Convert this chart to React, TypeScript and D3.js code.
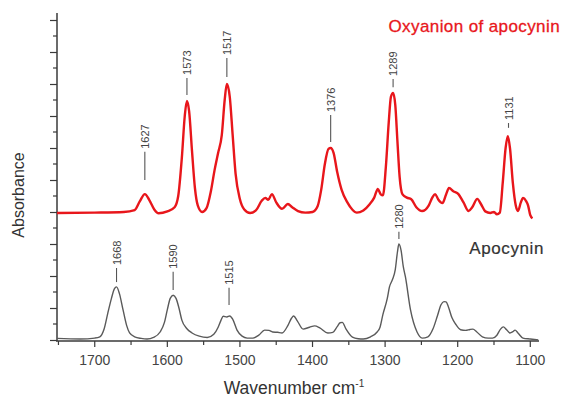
import React from "react";
import * as d3 from "d3";

// Oxyanion of apocynin spectrum (wavenumber, absorbance, offset baseline 4)
const oxyWn = [1752,1700,1660,1645,1638,1631,1625,1618,1612,1600,1590,1585,1580,1576,1573,1570,1566,1562,1558,1552,1546,1540,1535,1530,1525,1521,1518,1514,1510,1506,1500,1494,1486,1478,1470,1465,1461,1456,1450,1442,1434,1428,1420,1410,1400,1393,1388,1383,1378,1375,1371,1366,1360,1352,1345,1339,1330,1321,1315,1310,1306,1303,1299,1295,1292,1289,1286,1283,1280,1276,1270,1264,1257,1249,1240,1235,1231,1227,1221,1216,1212,1206,1199,1192,1185,1180,1173,1168,1162,1155,1150,1146,1142,1138,1134,1131,1128,1124,1120,1117,1113,1110,1106,1103,1100,1097];
const oxyAbs = [3.97,3.98,4.0,4.06,4.33,4.56,4.38,4.08,3.96,4.02,4.15,4.5,5.7,7.0,7.47,7.15,5.9,4.75,4.2,4.0,4.12,4.65,5.3,5.85,6.4,7.5,8.0,7.6,6.4,5.2,4.4,4.08,3.97,4.05,4.35,4.44,4.38,4.56,4.3,4.1,4.25,4.15,4.03,3.98,4.0,4.18,4.7,5.5,5.97,6.0,5.85,5.25,4.7,4.3,4.07,3.98,4.05,4.25,4.45,4.72,4.55,4.52,5.4,6.8,7.6,7.72,7.35,6.2,5.1,4.55,4.45,4.4,4.15,4.03,4.2,4.45,4.56,4.4,4.28,4.55,4.75,4.65,4.56,4.3,4.03,4.15,4.41,4.25,4.02,3.97,4.0,3.93,3.98,4.9,6.0,6.37,6.0,4.9,4.2,4.03,4.3,4.44,4.35,4.2,3.9,3.8];

// Apocynin spectrum
const apoWn = [1752,1720,1700,1693,1687,1682,1677,1673,1670,1666,1661,1656,1652,1645,1636,1628,1619,1610,1604,1600,1596,1592,1588,1584,1580,1573,1566,1556,1545,1536,1530,1526,1523,1518,1514,1510,1504,1497,1490,1482,1474,1466,1460,1455,1448,1442,1434,1429,1426,1421,1413,1404,1397,1390,1379,1372,1366,1362,1359,1354,1345,1337,1330,1320,1311,1307,1303,1297,1294,1290,1286,1283,1281,1278,1275,1272,1265,1256,1249,1241,1234,1228,1223,1219,1216,1213,1208,1203,1196,1189,1183,1179,1174,1166,1158,1152,1146,1141,1137,1133,1128,1124,1121,1117,1110,1100,1089];
const apoAbs = [0.05,0.03,0.06,0.1,0.35,0.84,1.3,1.6,1.66,1.45,0.94,0.45,0.22,0.1,0.05,0.03,0.08,0.25,0.55,0.95,1.3,1.4,1.3,1.0,0.62,0.35,0.22,0.12,0.08,0.18,0.4,0.62,0.74,0.72,0.75,0.65,0.31,0.12,0.06,0.06,0.15,0.31,0.3,0.25,0.24,0.22,0.45,0.68,0.75,0.6,0.34,0.4,0.44,0.38,0.22,0.24,0.42,0.54,0.55,0.35,0.09,0.04,0.03,0.1,0.25,0.4,0.8,1.3,1.66,1.88,2.2,2.75,3.0,2.8,2.3,1.97,0.94,0.25,0.06,0.1,0.35,0.75,1.1,1.2,1.19,1.05,0.7,0.5,0.32,0.3,0.33,0.34,0.26,0.1,0.06,0.06,0.15,0.34,0.41,0.33,0.22,0.26,0.31,0.22,0.06,0.03,0.0];

// Peak annotations: label, wavenumber, leader line bottom/top (absorbance units)
const oxyLabels = ["1627","1573","1517","1376","1289","1131"];
const oxyLabelWn = [1631,1573,1518,1375,1289,1130];
const oxyLineBottom = [5.0,7.66,8.22,6.19,7.9,6.63];
const oxyLineTop = [5.88,8.19,8.81,7.03,8.16,6.78];

const apoLabels = ["1668","1590","1515","1280"];
const apoLabelWn = [1670,1592,1515,1281];
const apoLineBottom = [1.81,1.56,1.09,3.16];
const apoLineTop = [2.25,2.13,1.63,3.38];

const xTickValues = [1700,1600,1500,1400,1300,1200,1100];
const xMinorValues = [1750,1650,1550,1450,1350,1250,1150];
const yMajor = [0,1,2,3,4,5,6,7,8,9,10];
const yMinor = [0.5,1.5,2.5,3.5,4.5,5.5,6.5,7.5,8.5,9.5];

const W = 567, H = 399;
const FONT = "'Liberation Sans', Arial, sans-serif";

export default function App() {
  const x = d3.scaleLinear().domain([1752, 1088]).range([57, 539]);
  const y = d3.scaleLinear().domain([0, 10]).range([340, 20]);
  const line = d3
    .line<[number, number]>()
    .x((d) => x(d[0]))
    .y((d) => y(d[1]))
    .curve(d3.curveMonotoneX);
  const oxy: [number, number][] = oxyWn.map((w, i) => [w, oxyAbs[i]]);
  const apo: [number, number][] = apoWn.map((w, i) => [w, apoAbs[i]]);
  const axisColor = "#3a3a3a";

  const label = (txt: string, wn: number, b: number, t: number, key: string) => {
    const cx = x(wn);
    const yb = y(b);
    const yt = y(t);
    return (
      <g key={key}>
        <line x1={cx} x2={cx} y1={yb} y2={yt} stroke="#555" strokeWidth={1.1} />
        <text
          transform={`translate(${cx + 4},${yt - 3}) rotate(-90)`}
          fontSize={11}
          fontFamily={FONT}
          fill="#444"
        >
          {txt}
        </text>
      </g>
    );
  };

  return (
    <div style={{ position: "absolute", left: 0, top: 0 }}>
      <svg width={W} height={H} style={{ display: "block", background: "#fff" }}>
        {/* axes */}
        <line x1={57} x2={57} y1={13} y2={341} stroke={axisColor} strokeWidth={1.5} />
        <line x1={56} x2={539} y1={341} y2={341} stroke={axisColor} strokeWidth={1.5} />
        {yMajor.map((v) => (
          <line key={"ym" + v} x1={50} x2={57} y1={y(v) + 0.5} y2={y(v) + 0.5} stroke={axisColor} strokeWidth={1.2} />
        ))}
        {yMinor.map((v) => (
          <line key={"yn" + v} x1={53} x2={57} y1={y(v)} y2={y(v)} stroke={axisColor} strokeWidth={1.2} />
        ))}
        {xTickValues.map((v) => (
          <g key={"xt" + v}>
            <line x1={x(v)} x2={x(v)} y1={341} y2={347} stroke={axisColor} strokeWidth={1.2} />
            <text x={x(v)} y={365} textAnchor="middle" fontSize={14} fontFamily={FONT} fill="#444">
              {v}
            </text>
          </g>
        ))}
        {xMinorValues.map((v) => (
          <line key={"xn" + v} x1={x(v)} x2={x(v)} y1={341} y2={345} stroke={axisColor} strokeWidth={1.2} />
        ))}

        {/* spectra */}
        <path d={line(apo) || ""} fill="none" stroke="#5a5a5a" strokeWidth={1.4} />
        <path d={line(oxy) || ""} fill="none" stroke="#e8161b" strokeWidth={2.4} strokeLinejoin="round" />

        {/* peak labels */}
        {oxyLabels.map((t, i) => label(t, oxyLabelWn[i], oxyLineBottom[i], oxyLineTop[i], "o" + i))}
        {apoLabels.map((t, i) => label(t, apoLabelWn[i], apoLineBottom[i], apoLineTop[i], "a" + i))}

        {/* series titles */}
        <text x={560} y={32} textAnchor="end" fontSize={17} letterSpacing={0.4} fontFamily={FONT} fill="#e8161b" stroke="#e8161b" strokeWidth={0.3}>
          Oxyanion of apocynin
        </text>
        <text x={544} y={254} textAnchor="end" fontSize={17} letterSpacing={0.6} fontFamily={FONT} fill="#333" stroke="#333" strokeWidth={0.2}>
          Apocynin
        </text>

        {/* axis titles */}
        <text
          transform="translate(24,195) rotate(-90)"
          textAnchor="middle"
          fontSize={16}
          fontFamily={FONT}
          fill="#333"
        >
          Absorbance
        </text>
        <text x={294} y={394} textAnchor="middle" fontSize={17.5} fontFamily={FONT} fill="#333">
          Wavenumber cm
          <tspan dy={-7} fontSize={10}>-1</tspan>
        </text>
      </svg>
    </div>
  );
}
